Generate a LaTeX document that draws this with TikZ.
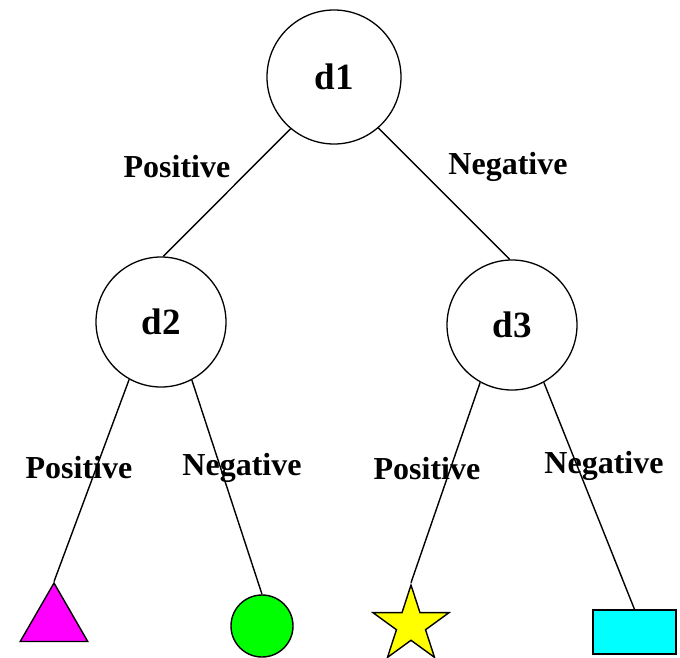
\documentclass[tikz,border=0pt]{standalone}
\usepackage{fontspec}
\setmainfont{Liberation Serif}
\usetikzlibrary{shapes.geometric}
\begin{document}
\begin{tikzpicture}[x=1pt,y=-1pt,
  dnode/.style={circle,draw,line width=1.3pt,inner sep=0pt,font=\bfseries\fontsize{37}{37}\selectfont},
  elab/.style={font=\bfseries\fontsize{32}{32}\selectfont,inner sep=0pt},
  edge/.style={line width=1.4pt},
  leaf/.style={draw,line width=1.4pt,inner sep=0pt}]
\useasboundingbox (0,0) rectangle (680,658);
\node[dnode,minimum size=134pt] (d1) at (334,77) {d1};
\node[dnode,minimum size=130pt] (d2) at (161,322) {d2};
\node[dnode,minimum size=130pt] (d3) at (512,325) {d3};
\node[leaf,regular polygon,regular polygon sides=3,minimum size=78pt,fill={rgb,255:red,255;green,0;blue,255}] (tri) at (54,622) {};
\node[leaf,circle,minimum size=62pt,fill={rgb,255:red,0;green,255;blue,0}] (circ) at (262,626) {};
\node[leaf,star,star points=5,star point ratio=2.618,minimum size=80pt,fill={rgb,255:red,255;green,255;blue,0}] (star) at (411,625) {};
\node[leaf,rectangle,minimum width=83pt,minimum height=44pt,fill={rgb,255:red,0;green,255;blue,255}] (rect) at (634.5,632) {};
\draw[edge] (d1.230) -- (d2.88);
\draw[edge] (d1.311) -- (d3.92);
\draw[edge] (d2.241) -- (tri.corner 1);
\draw[edge] (d2.298) -- (circ.north);
\draw[edge] (d3.241) -- (star.outer point 1);
\draw[edge] (d3.299) -- (rect.north);
\node[elab] (l1) at (177,167) {Positive};
\node[elab] (l2) at (508,167) {Negative};
\node[elab] (l3) at (79,468) {Positive};
\node[elab] (l4) at (242,468) {Negative};
\node[elab] (l5) at (427,469) {Positive};
\node[elab] (l6) at (604,466) {Negative};
\end{tikzpicture}
\end{document}
